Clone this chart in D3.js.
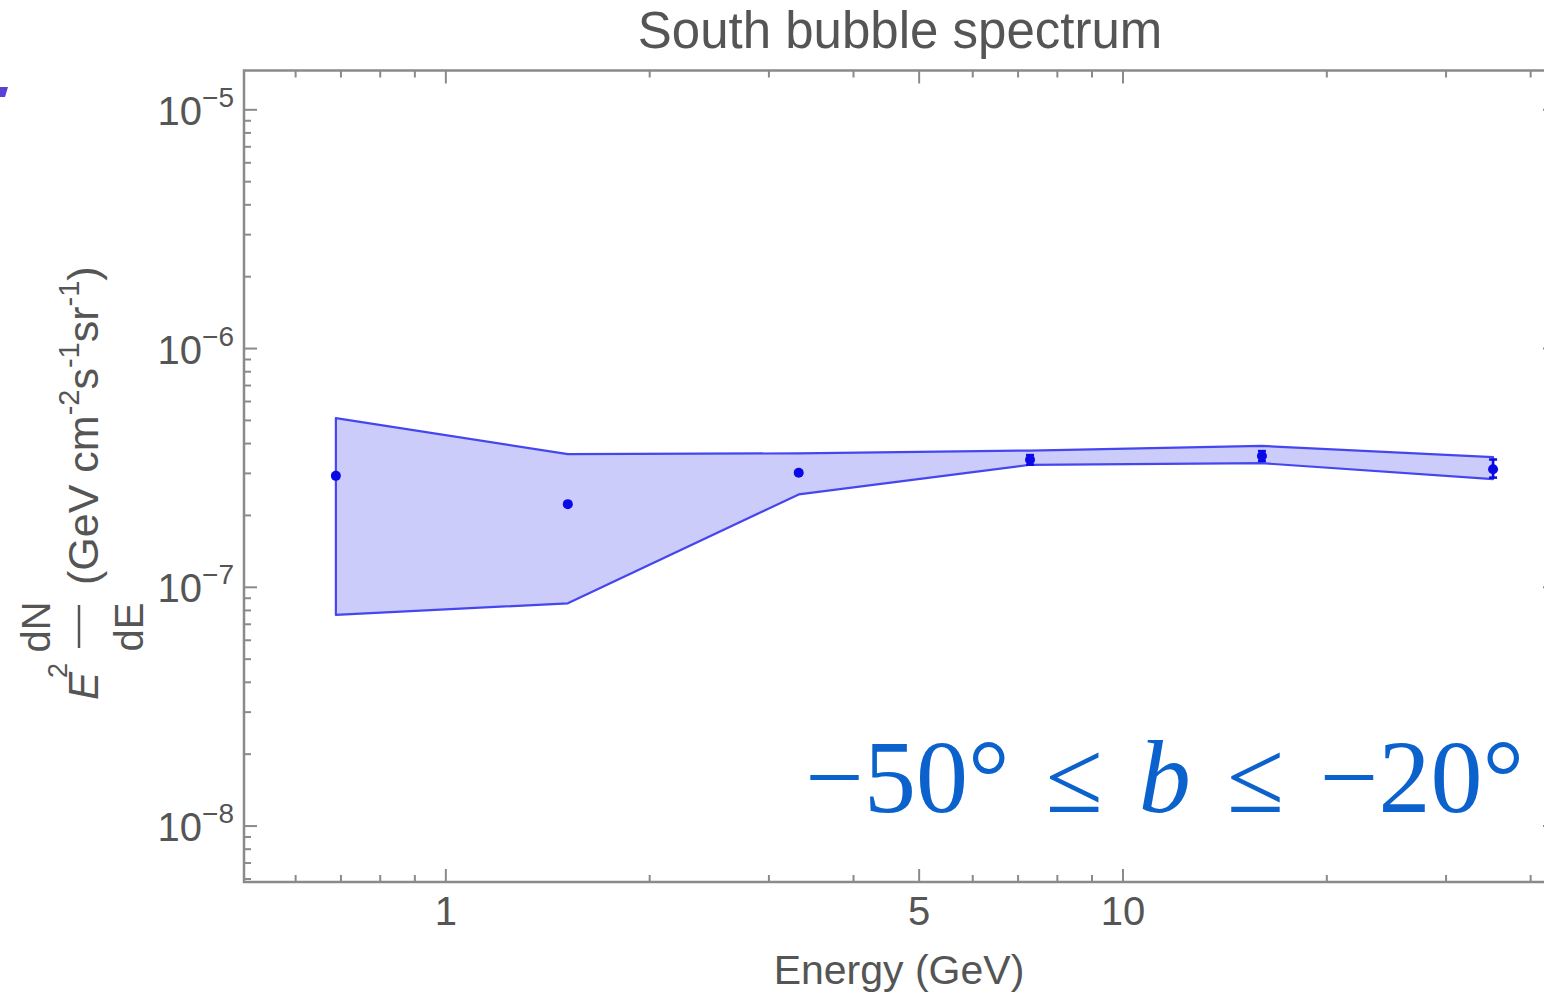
<!DOCTYPE html>
<html>
<head>
<meta charset="utf-8">
<script src="https://cdn.jsdelivr.net/npm/d3@7"></script>
<style>
  html, body { margin: 0; padding: 0; background: #ffffff; overflow: hidden; }
  svg { display: block; }
</style>
</head>
<body>
<svg id="chart" width="1544" height="997"></svg>
<script>
// South bubble spectrum: E^2 dN/dE per energy bin
const energies   = [0.688, 1.514, 3.32, 7.29, 16.04, 35.2];          // GeV
const flux       = [2.93e-7, 2.23e-7, 3.02e-7, 3.42e-7, 3.55e-7, 3.12e-7];
const fluxLow    = [2.89e-7, 2.20e-7, 2.98e-7, 3.26e-7, 3.38e-7, 2.88e-7];
const fluxHigh   = [2.97e-7, 2.26e-7, 3.06e-7, 3.58e-7, 3.72e-7, 3.43e-7];
const bandUpper  = [5.11e-7, 3.61e-7, 3.64e-7, 3.74e-7, 3.91e-7, 3.51e-7];
const bandLower  = [7.66e-8, 8.57e-8, 2.45e-7, 3.26e-7, 3.31e-7, 2.84e-7];

const xMajorTicks = [1, 5, 10];
const xMinorTicks = [0.6, 0.7, 0.8, 0.9, 2, 3, 4, 6, 7, 8, 9, 20, 30, 40];
const yMajorExponents = [-5, -6, -7, -8];
const xDomain = [0.5034, 43.6];
const yDomain = [5.83e-9, 1.461e-5];

const titleText = "South bubble spectrum";
const xLabelText = "Energy (GeV)";
const regionLabel = ["\u221250\u00b0 \u2264 ", "b", " \u2264 \u221220\u00b0"];

const svg = d3.select("#chart");
const plotLeft = 244, plotRight = 1556, plotTop = 70.5, plotBottom = 882;

const x = d3.scaleLog().domain(xDomain).range([plotLeft, plotRight]);
const y = d3.scaleLog().domain(yDomain).range([plotBottom, plotTop]);

const axisColor = "#8a8a8a";
const textColor = "#555555";
const font = "'Liberation Sans', Arial, Helvetica, sans-serif";

// corner fragment in the upper left
svg.append("path")
  .attr("d", "M0,87 L8,87 L5,97 L0,97 Z")
  .attr("fill", "#5a40d4");

// uncertainty band
const bandPts = energies.map((e, i) => [e, bandUpper[i]])
  .concat(energies.map((e, i) => [e, bandLower[i]]).reverse());
svg.append("path")
  .attr("d", d3.line().x(d => x(d[0])).y(d => y(d[1]))(bandPts) + "Z")
  .attr("fill", "rgb(204,204,250)")
  .attr("stroke", "rgb(70,70,240)")
  .attr("stroke-width", 2.2)
  .attr("stroke-linejoin", "round");

// error bars
const eb = svg.append("g").attr("stroke", "#0a0ae6").attr("stroke-width", 2.5);
energies.forEach((e, i) => {
  const cx = x(e);
  eb.append("line").attr("x1", cx).attr("x2", cx).attr("y1", y(fluxLow[i])).attr("y2", y(fluxHigh[i]));
  eb.append("line").attr("x1", cx - 4).attr("x2", cx + 4).attr("y1", y(fluxLow[i])).attr("y2", y(fluxLow[i]));
  eb.append("line").attr("x1", cx - 4).attr("x2", cx + 4).attr("y1", y(fluxHigh[i])).attr("y2", y(fluxHigh[i]));
});

// data points
svg.append("g").selectAll("circle").data(energies).join("circle")
  .attr("cx", d => x(d))
  .attr("cy", (d, i) => y(flux[i]))
  .attr("r", 5)
  .attr("fill", "#0a0ae6");

// frame
svg.append("rect")
  .attr("x", plotLeft).attr("y", plotTop)
  .attr("width", plotRight - plotLeft).attr("height", plotBottom - plotTop)
  .attr("fill", "none").attr("stroke", axisColor).attr("stroke-width", 2.5);

// ticks on all four sides, pointing inward
const ticks = svg.append("g").attr("stroke", axisColor).attr("stroke-width", 2);
const majLen = 13, minLen = 7;
xMajorTicks.forEach(v => {
  ticks.append("line").attr("x1", x(v)).attr("x2", x(v)).attr("y1", plotBottom).attr("y2", plotBottom - majLen);
  ticks.append("line").attr("x1", x(v)).attr("x2", x(v)).attr("y1", plotTop).attr("y2", plotTop + majLen);
});
xMinorTicks.forEach(v => {
  ticks.append("line").attr("x1", x(v)).attr("x2", x(v)).attr("y1", plotBottom).attr("y2", plotBottom - minLen);
  ticks.append("line").attr("x1", x(v)).attr("x2", x(v)).attr("y1", plotTop).attr("y2", plotTop + minLen);
});
const yMinor = [];
[-9, -8, -7, -6, -5].forEach(p => {
  for (let m = 2; m <= 9; m++) {
    const v = m * Math.pow(10, p);
    if (v > yDomain[0] && v < yDomain[1]) yMinor.push(v);
  }
});
yMajorExponents.forEach(p => {
  const v = Math.pow(10, p);
  ticks.append("line").attr("x1", plotLeft).attr("x2", plotLeft + majLen).attr("y1", y(v)).attr("y2", y(v));
  ticks.append("line").attr("x1", plotRight).attr("x2", plotRight - majLen).attr("y1", y(v)).attr("y2", y(v));
});
yMinor.forEach(v => {
  ticks.append("line").attr("x1", plotLeft).attr("x2", plotLeft + minLen).attr("y1", y(v)).attr("y2", y(v));
  ticks.append("line").attr("x1", plotRight).attr("x2", plotRight - minLen).attr("y1", y(v)).attr("y2", y(v));
});

// x tick labels
svg.append("g").selectAll("text").data(xMajorTicks).join("text")
  .attr("x", d => x(d)).attr("y", 925)
  .attr("text-anchor", "middle")
  .attr("font-family", font).attr("font-size", 40).attr("fill", textColor)
  .text(d => d);

// y tick labels as 10^p
yMajorExponents.forEach(p => {
  const t = svg.append("text")
    .attr("x", 234).attr("y", y(Math.pow(10, p)) + 15)
    .attr("text-anchor", "end")
    .attr("font-family", font).attr("font-size", 40).attr("fill", textColor);
  t.append("tspan").text("10");
  t.append("tspan").attr("dy", -18).attr("font-size", 28).text("\u2212" + Math.abs(p));
});

// title
svg.append("text")
  .attr("x", 900).attr("y", 48)
  .attr("text-anchor", "middle")
  .attr("font-family", font).attr("font-size", 51).attr("fill", textColor)
  .text(titleText);

// x axis label
svg.append("text")
  .attr("x", 899).attr("y", 984)
  .attr("text-anchor", "middle")
  .attr("font-family", font).attr("font-size", 41).attr("fill", textColor)
  .text(xLabelText);

// y axis label: E^2 dN/dE (GeV cm^-2 s^-1 sr^-1)
const yl = svg.append("g")
  .attr("transform", "translate(98,700) rotate(-90)")
  .attr("font-family", font).attr("fill", textColor);
yl.append("text").attr("x", 0).attr("y", 0)
  .attr("font-size", 42).attr("font-style", "italic").text("E");
yl.append("text").attr("x", 22).attr("y", -31)
  .attr("font-size", 27).text("2");
yl.append("text").attr("x", 73).attr("y", -48)
  .attr("text-anchor", "middle").attr("font-size", 40).text("dN");
yl.append("text").attr("x", 73).attr("y", 45)
  .attr("text-anchor", "middle").attr("font-size", 40).text("dE");
yl.append("line").attr("x1", 52).attr("x2", 95).attr("y1", -19).attr("y2", -19)
  .attr("stroke", textColor).attr("stroke-width", 2.5);
const unit = yl.append("text").attr("x", 115).attr("y", 0).attr("font-size", 43);
unit.append("tspan").text("(GeV cm");
unit.append("tspan").attr("dy", -19).attr("font-size", 29).text("-2");
unit.append("tspan").attr("dy", 19).text("s");
unit.append("tspan").attr("dy", -19).attr("font-size", 29).text("-1");
unit.append("tspan").attr("dy", 19).text("sr");
unit.append("tspan").attr("dy", -19).attr("font-size", 29).text("-1");
unit.append("tspan").attr("dy", 19).text(")");

// latitude range annotation
const ann = svg.append("text")
  .attr("x", 1524).attr("y", 812)
  .attr("text-anchor", "end")
  .attr("font-family", "'Liberation Serif', 'DejaVu Serif', serif")
  .attr("font-size", 104).attr("word-spacing", 10).attr("fill", "#0b62cc");
ann.append("tspan").text(regionLabel[0]);
ann.append("tspan").attr("font-style", "italic").text(regionLabel[1]);
ann.append("tspan").text(regionLabel[2]);
</script>
</body>
</html>
